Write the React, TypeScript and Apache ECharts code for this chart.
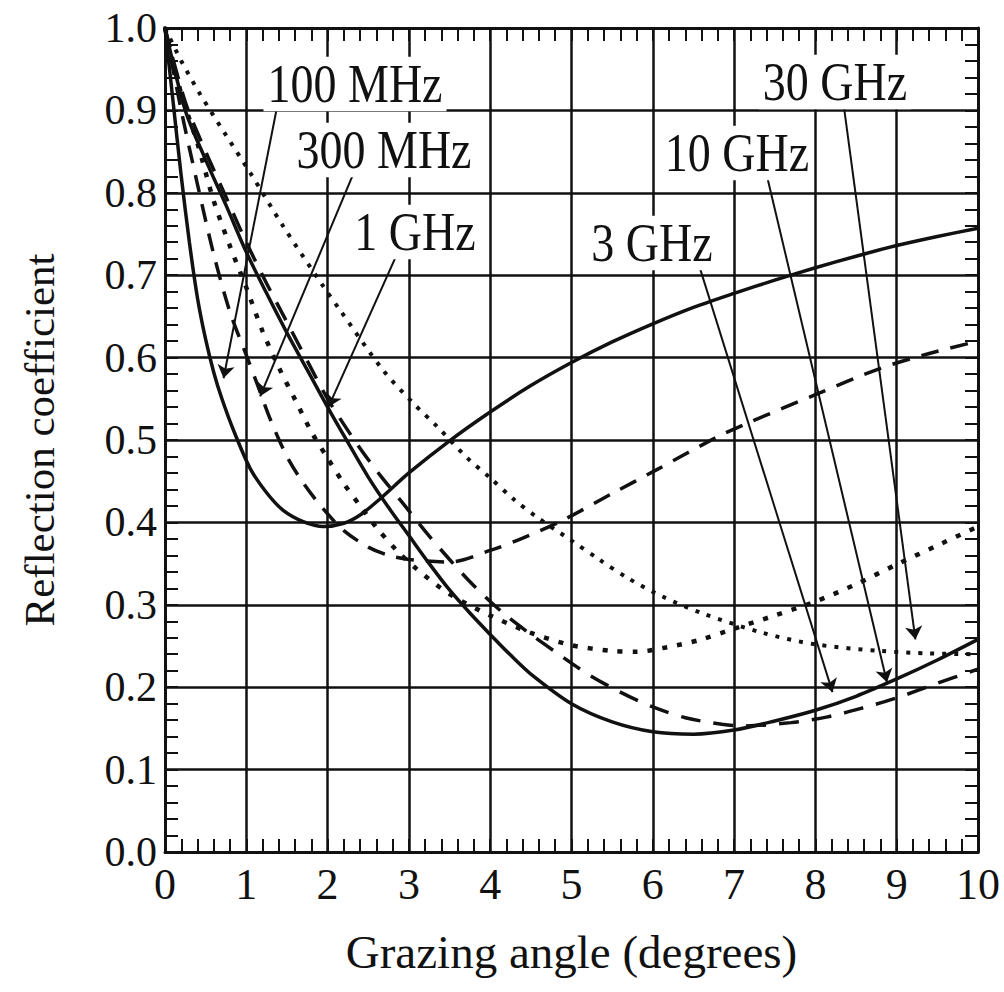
import React, { useEffect, useRef } from "react";
import * as echarts from "echarts";

// ---- tick labels / axes ----
const xTicks = [0, 1, 2, 3, 4, 5, 6, 7, 8, 9, 10];
const yTickLabels = ["0.0", "0.1", "0.2", "0.3", "0.4", "0.5", "0.6", "0.7", "0.8", "0.9", "1.0"];

// ---- series: 100 MHz (solid) ----
const x100MHz = [0, 0.1, 0.2, 0.3, 0.4, 0.5, 0.6, 0.7, 0.85, 1.05, 1.25, 1.45, 1.7, 1.95, 2.2, 2.4, 2.65, 3.0, 3.5, 4.0, 4.5, 5.0, 5.5, 6.0, 6.5, 7.0, 7.5, 8.0, 8.5, 9.0, 9.5, 10];
const y100MHz = [1.0, 0.91, 0.82, 0.74, 0.672, 0.622, 0.582, 0.55, 0.51, 0.465, 0.436, 0.415, 0.401, 0.395, 0.399, 0.409, 0.429, 0.46, 0.499, 0.534, 0.566, 0.594, 0.619, 0.641, 0.661, 0.678, 0.694, 0.709, 0.723, 0.736, 0.747, 0.757];

// ---- series: 300 MHz (dashed) ----
const x300MHz = [0, 0.2, 0.4, 0.6, 0.8, 1.0, 1.13, 1.3, 1.5, 1.7, 1.95, 2.2, 2.5, 2.75, 3.0, 3.5, 4.0, 4.4, 4.9, 5.5, 6.05, 6.8, 7.2, 8.0, 8.8, 9.4, 10];
const y300MHz = [1.0, 0.9, 0.81, 0.725, 0.655, 0.603, 0.569, 0.524, 0.48, 0.448, 0.416, 0.39, 0.37, 0.36, 0.355, 0.352, 0.366, 0.381, 0.403, 0.435, 0.464, 0.504, 0.522, 0.555, 0.587, 0.605, 0.62];

// ---- series: 1 GHz (dotted) ----
const x1GHz = [0, 0.2, 0.4, 0.6, 0.8, 1.0, 1.2, 1.4, 1.6, 1.8, 2.0, 2.2, 2.4, 2.6, 2.85, 3.1, 3.5, 4.0, 4.5, 5.0, 5.5, 5.8, 6.2, 6.6, 7.0, 7.5, 8.0, 8.5, 9.0, 9.5, 10];
const y1GHz = [1.0, 0.92, 0.86, 0.79, 0.735, 0.685, 0.632, 0.588, 0.549, 0.51, 0.478, 0.447, 0.42, 0.394, 0.366, 0.343, 0.313, 0.287, 0.266, 0.251, 0.244, 0.243, 0.249, 0.258, 0.271, 0.287, 0.304, 0.325, 0.349, 0.372, 0.395];

// ---- series: 3 GHz (solid) ----
const x3GHz = [0, 0.25, 0.5, 0.75, 1.0, 1.25, 1.5, 1.75, 2.0, 2.25, 2.5, 2.75, 3.0, 3.25, 3.5, 3.75, 4.0, 4.25, 4.5, 5.0, 5.5, 6.0, 6.5, 7.0, 7.5, 8.0, 8.5, 9.0, 9.5, 10];
const y3GHz = [1.0, 0.9, 0.84, 0.785, 0.728, 0.678, 0.63, 0.585, 0.54, 0.497, 0.455, 0.418, 0.384, 0.35, 0.318, 0.29, 0.264, 0.239, 0.216, 0.18, 0.158, 0.146, 0.143, 0.148, 0.159, 0.172, 0.189, 0.21, 0.233, 0.258];

// ---- series: 10 GHz (dashed) ----
const x10GHz = [0, 0.25, 0.5, 0.75, 1.0, 1.25, 1.5, 1.75, 2.0, 2.37, 2.64, 2.92, 3.22, 3.5, 3.79, 4.16, 4.5, 4.8, 5.2, 5.6, 6.0, 6.4, 6.85, 7.1, 7.7, 8.15, 8.55, 9.0, 9.45, 10];
const y10GHz = [1.0, 0.91, 0.85, 0.795, 0.74, 0.69, 0.643, 0.596, 0.55, 0.494, 0.458, 0.424, 0.387, 0.355, 0.324, 0.29, 0.264, 0.243, 0.216, 0.194, 0.176, 0.163, 0.155, 0.153, 0.157, 0.164, 0.174, 0.187, 0.203, 0.222];

// ---- series: 30 GHz (dotted) ----
const x30GHz = [0, 0.2, 0.43, 0.75, 1.05, 1.45, 1.95, 2.15, 2.68, 3.05, 3.35, 3.72, 4.0, 4.29, 4.58, 5.0, 5.34, 5.7, 6.12, 6.6, 7.35, 8.0, 8.8, 9.4, 10];
const y30GHz = [1.0, 0.96, 0.92, 0.87, 0.824, 0.76, 0.686, 0.658, 0.585, 0.545, 0.516, 0.478, 0.454, 0.428, 0.406, 0.378, 0.355, 0.332, 0.31, 0.29, 0.266, 0.252, 0.244, 0.241, 0.24];

// ---- annotation labels and arrow (from, to) in data units ----
const labelTexts = ["100 MHz", "300 MHz", "1 GHz", "3 GHz", "10 GHz", "30 GHz"];
const arrowFrom = [[1.38, 0.905], [2.32, 0.824], [2.86, 0.727], [6.55, 0.718], [7.41, 0.818], [8.35, 0.905]];
const arrowTo = [[0.72, 0.575], [1.17, 0.553], [2.01, 0.54], [8.21, 0.194], [8.88, 0.206], [9.23, 0.258]];

const FONT = "'Liberation Serif', 'DejaVu Serif', serif";
const INK = "#111";

const zip = (xs: number[], ys: number[]) => xs.map((x, i) => [x, ys[i]]);

export default function App() {
  const ref = useRef<HTMLDivElement>(null);
  useEffect(() => {
    if (!ref.current) return;
    const chart = echarts.init(ref.current, undefined, { renderer: "svg" });

    const axisCommon = {
      type: "value" as const,
      axisLine: { show: true, onZero: false, lineStyle: { color: INK, width: 3 } },
      axisTick: { show: true, inside: true, length: 13, lineStyle: { color: INK, width: 2 } },
      minorTick: { show: true, splitNumber: 5, length: 13, lineStyle: { color: INK, width: 2 } },
    };

    const mkLine = (name: string, xs: number[], ys: number[], type: any, width: number) => ({
      name,
      type: "line",
      xAxisIndex: 0,
      yAxisIndex: 0,
      data: zip(xs, ys),
      smooth: 0.3,
      symbol: "none",
      lineStyle: { color: INK, width, type, cap: type === "solid" ? "round" : "butt" },
      z: 3,
    });

    // label centers in pixels (layout only)
    const labelPos = [
      [355, 84],
      [384, 150],
      [415, 232],
      [652, 243],
      [737, 153],
      [835, 82],
    ];

    const option: any = {
      animation: false,
      backgroundColor: "#fff",
      grid: { left: 165, right: 26, top: 28, bottom: 140 },
      xAxis: [
        {
          ...axisCommon,
          position: "bottom",
          min: 0,
          max: 10,
          interval: 1,
          splitLine: { show: true, lineStyle: { color: INK, width: 2.5 } },
          axisLabel: {
            fontSize: 44,
            fontFamily: FONT,
            color: INK,
            margin: 10,
            formatter: (v: number) => String(xTicks[Math.round(v)] ?? v),
          },
          name: "Grazing angle (degrees)",
          nameLocation: "middle",
          nameGap: 76,
          nameTextStyle: { fontSize: 47, fontFamily: FONT, color: INK },
        },
        {
          ...axisCommon,
          position: "top",
          min: 0,
          max: 10,
          interval: 1,
          splitLine: { show: false },
          axisLabel: { show: false },
        },
      ],
      yAxis: [
        {
          ...axisCommon,
          position: "left",
          min: 0,
          max: 1,
          interval: 0.1,
          splitLine: { show: true, lineStyle: { color: INK, width: 2.5 } },
          axisLabel: {
            fontSize: 42,
            fontFamily: FONT,
            color: INK,
            margin: 8,
            formatter: (v: number) => yTickLabels[Math.round(v * 10)],
          },
          name: "Reflection coefficient",
          nameLocation: "middle",
          nameGap: 104,
          nameTextStyle: { fontSize: 43, fontFamily: FONT, color: INK },
        },
        {
          ...axisCommon,
          position: "right",
          min: 0,
          max: 1,
          interval: 0.1,
          splitLine: { show: false },
          axisLabel: { show: false },
        },
      ],
      series: [
        mkLine("100 MHz", x100MHz, y100MHz, "solid", 3.5),
        mkLine("300 MHz", x300MHz, y300MHz, [18, 12], 3.5),
        mkLine("1 GHz", x1GHz, y1GHz, [5, 10], 4.5),
        mkLine("3 GHz", x3GHz, y3GHz, "solid", 3.5),
        mkLine("10 GHz", x10GHz, y10GHz, [20, 13], 3.5),
        mkLine("30 GHz", x30GHz, y30GHz, [4, 8], 4),
        {
          name: "arrows",
          type: "lines",
          coordinateSystem: "cartesian2d",
          xAxisIndex: 0,
          yAxisIndex: 0,
          symbol: ["none", "arrow"],
          symbolSize: [0, 13],
          lineStyle: { color: INK, width: 2, opacity: 1 },
          data: arrowFrom.map((f, i) => ({ coords: [f, arrowTo[i]] })),
          z: 4,
          silent: true,
        },
      ],
      graphic: labelTexts.map((t, i) => ({
        type: "text",
        x: labelPos[i][0],
        y: labelPos[i][1],
        scaleY: 1.18,
        z: 100,
        style: {
          text: t,
          fontSize: 46,
          fontFamily: FONT,
          fill: INK,
          align: "center",
          verticalAlign: "middle",
          backgroundColor: "#fff",
          padding: [0, 4],
        },
      })),
    };

    chart.setOption(option);
    return () => chart.dispose();
  }, []);

  return (
    <div
      ref={ref}
      style={{ position: "absolute", left: 0, top: 0, width: 1004, height: 992, background: "#fff" }}
    />
  );
}
